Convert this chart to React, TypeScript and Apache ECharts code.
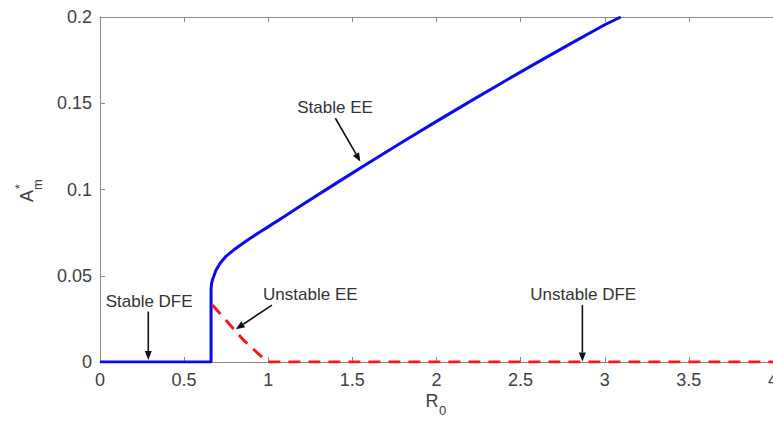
import React, { useEffect, useRef } from "react";
import * as echarts from "echarts";

// Stable branch (DFE for R0 < ~0.66, then stable EE)
const blueX = [0, 0.66, 0.66, 0.663, 0.668, 0.675, 0.69, 0.714, 0.75, 0.794, 0.85, 0.893, 0.95, 0.992, 1.1, 1.2, 1.4, 1.6, 1.8, 2.0, 2.2, 2.4, 2.6, 2.8, 3.0, 3.095];
const blueY = [0, 0, 0.042, 0.0455, 0.0475, 0.0494, 0.0533, 0.0572, 0.0614, 0.0649, 0.0688, 0.0717, 0.0753, 0.0779, 0.0847, 0.091, 0.1034, 0.1157, 0.1277, 0.1395, 0.1511, 0.1625, 0.1737, 0.1847, 0.1955, 0.2];

// Unstable branch (unstable EE, then unstable DFE)
const redX = [0.668, 0.7, 0.75, 0.8, 0.85, 0.9, 0.95, 1.0, 1.5, 2, 2.5, 3, 3.5, 4];
const redY = [0.033, 0.0295, 0.024, 0.0185, 0.013, 0.0085, 0.004, 0, 0, 0, 0, 0, 0, 0];

const annotations = [
  { text: "Stable DFE", tx: 0.292, ty: 0.035, from: [0.287, 0.0292], to: [0.287, 0.0012] },
  { text: "Stable EE", tx: 1.397, ty: 0.1475, from: [1.399, 0.1413], to: [1.548, 0.1161] },
  { text: "Unstable EE", tx: 1.25, ty: 0.039, from: [1.022, 0.033], to: [0.807, 0.019] },
  { text: "Unstable DFE", tx: 2.872, ty: 0.039, from: [2.867, 0.033], to: [2.867, 0.0003] },
];

const FONT = "'Liberation Sans', Arial, sans-serif";

export default function App() {
  const ref = useRef<HTMLDivElement>(null);
  useEffect(() => {
    if (!ref.current) return;
    const chart = echarts.init(ref.current, undefined, { renderer: "svg" });
    const axisGray = "#8a8a8a";
    chart.setOption({
      animation: false,
      backgroundColor: "#ffffff",
      grid: { left: 100, right: 0, top: 17, bottom: 65, containLabel: false, outerBoundsMode: "none" },
      xAxis: [
        {
          type: "value",
          min: 0,
          max: 4,
          interval: 0.5,
          position: "bottom",
          axisLine: { show: true, lineStyle: { color: axisGray, width: 1 } },
          axisTick: { show: true, inside: true, length: 5, lineStyle: { color: axisGray } },
          axisLabel: { color: "#404040", fontSize: 18, fontFamily: FONT, margin: 9, hideOverlap: false },
          splitLine: { show: false },
        },
        {
          type: "value",
          min: 0,
          max: 4,
          interval: 0.5,
          position: "top",
          axisLine: { show: true, lineStyle: { color: axisGray, width: 1 } },
          axisTick: { show: true, inside: true, length: 5, lineStyle: { color: axisGray } },
          axisLabel: { show: false },
          splitLine: { show: false },
        },
      ],
      yAxis: {
        type: "value",
        min: 0,
        max: 0.2,
        interval: 0.05,
        axisLine: { show: true, lineStyle: { color: axisGray, width: 1 } },
        axisTick: { show: true, inside: true, length: 5, lineStyle: { color: axisGray } },
        axisLabel: { color: "#404040", fontSize: 18, fontFamily: FONT, margin: 8 },
        splitLine: { show: false },
      },
      series: [
        {
          type: "line",
          data: blueX.map((x, i) => [x, blueY[i]]),
          showSymbol: false,
          symbol: "none",
          lineStyle: { color: "#0a0af0", width: 3 },
          z: 3,
        },
        {
          type: "line",
          data: redX.map((x, i) => [x, redY[i]]),
          showSymbol: false,
          symbol: "none",
          lineStyle: { color: "#ee1c1c", width: 3, type: [12, 8] },
          z: 4,
        },
      ],
    });

    const px = (p: number[]) => chart.convertToPixel({ gridIndex: 0 }, p) as number[];
    const graphics: any[] = [];
    annotations.forEach((a) => {
      const t = px([a.tx, a.ty]);
      graphics.push({
        type: "text",
        x: t[0],
        y: t[1],
        style: { text: a.text, fill: "#333333", font: `17px ${FONT}`, align: "center", verticalAlign: "middle" },
        z: 10,
      });
      const s = px(a.from);
      const e = px(a.to);
      const dx = e[0] - s[0];
      const dy = e[1] - s[1];
      const len = Math.sqrt(dx * dx + dy * dy);
      const ux = dx / len;
      const uy = dy / len;
      const hl = 9;
      const hw = 3.5;
      const bx = e[0] - ux * hl;
      const by = e[1] - uy * hl;
      graphics.push({
        type: "line",
        shape: { x1: s[0], y1: s[1], x2: bx, y2: by },
        style: { stroke: "#111111", lineWidth: 1.6 },
        z: 10,
      });
      graphics.push({
        type: "polygon",
        shape: {
          points: [
            [e[0], e[1]],
            [bx - uy * hw, by + ux * hw],
            [bx + uy * hw, by - ux * hw],
          ],
        },
        style: { fill: "#111111" },
        z: 10,
      });
    });

    // x-axis name R_0
    graphics.push({
      type: "group",
      x: 432,
      y: 401,
      children: [
        { type: "text", x: 0, y: 0, style: { text: "R", font: `18px ${FONT}`, fill: "#404040", align: "center", verticalAlign: "middle" } },
        { type: "text", x: 7, y: 9, style: { text: "0", font: `13px ${FONT}`, fill: "#404040", align: "left", verticalAlign: "middle" } },
      ],
    });
    // y-axis name A*_m (rotated)
    graphics.push({
      type: "group",
      x: 27,
      y: 196,
      rotation: Math.PI / 2,
      children: [
        { type: "text", x: 0, y: 0, style: { text: "A", font: `18px ${FONT}`, fill: "#404040", align: "center", verticalAlign: "middle" } },
        { type: "text", x: 7, y: -7, style: { text: "*", font: `12px ${FONT}`, fill: "#404040", align: "left", verticalAlign: "middle" } },
        { type: "text", x: 6, y: 10, style: { text: "m", font: `13px ${FONT}`, fill: "#404040", align: "left", verticalAlign: "middle" } },
      ],
    });
    chart.setOption({ graphic: graphics });

    return () => chart.dispose();
  }, []);
  return <div ref={ref} style={{ position: "fixed", left: 0, top: 0, width: 773, height: 427 }} />;
}
